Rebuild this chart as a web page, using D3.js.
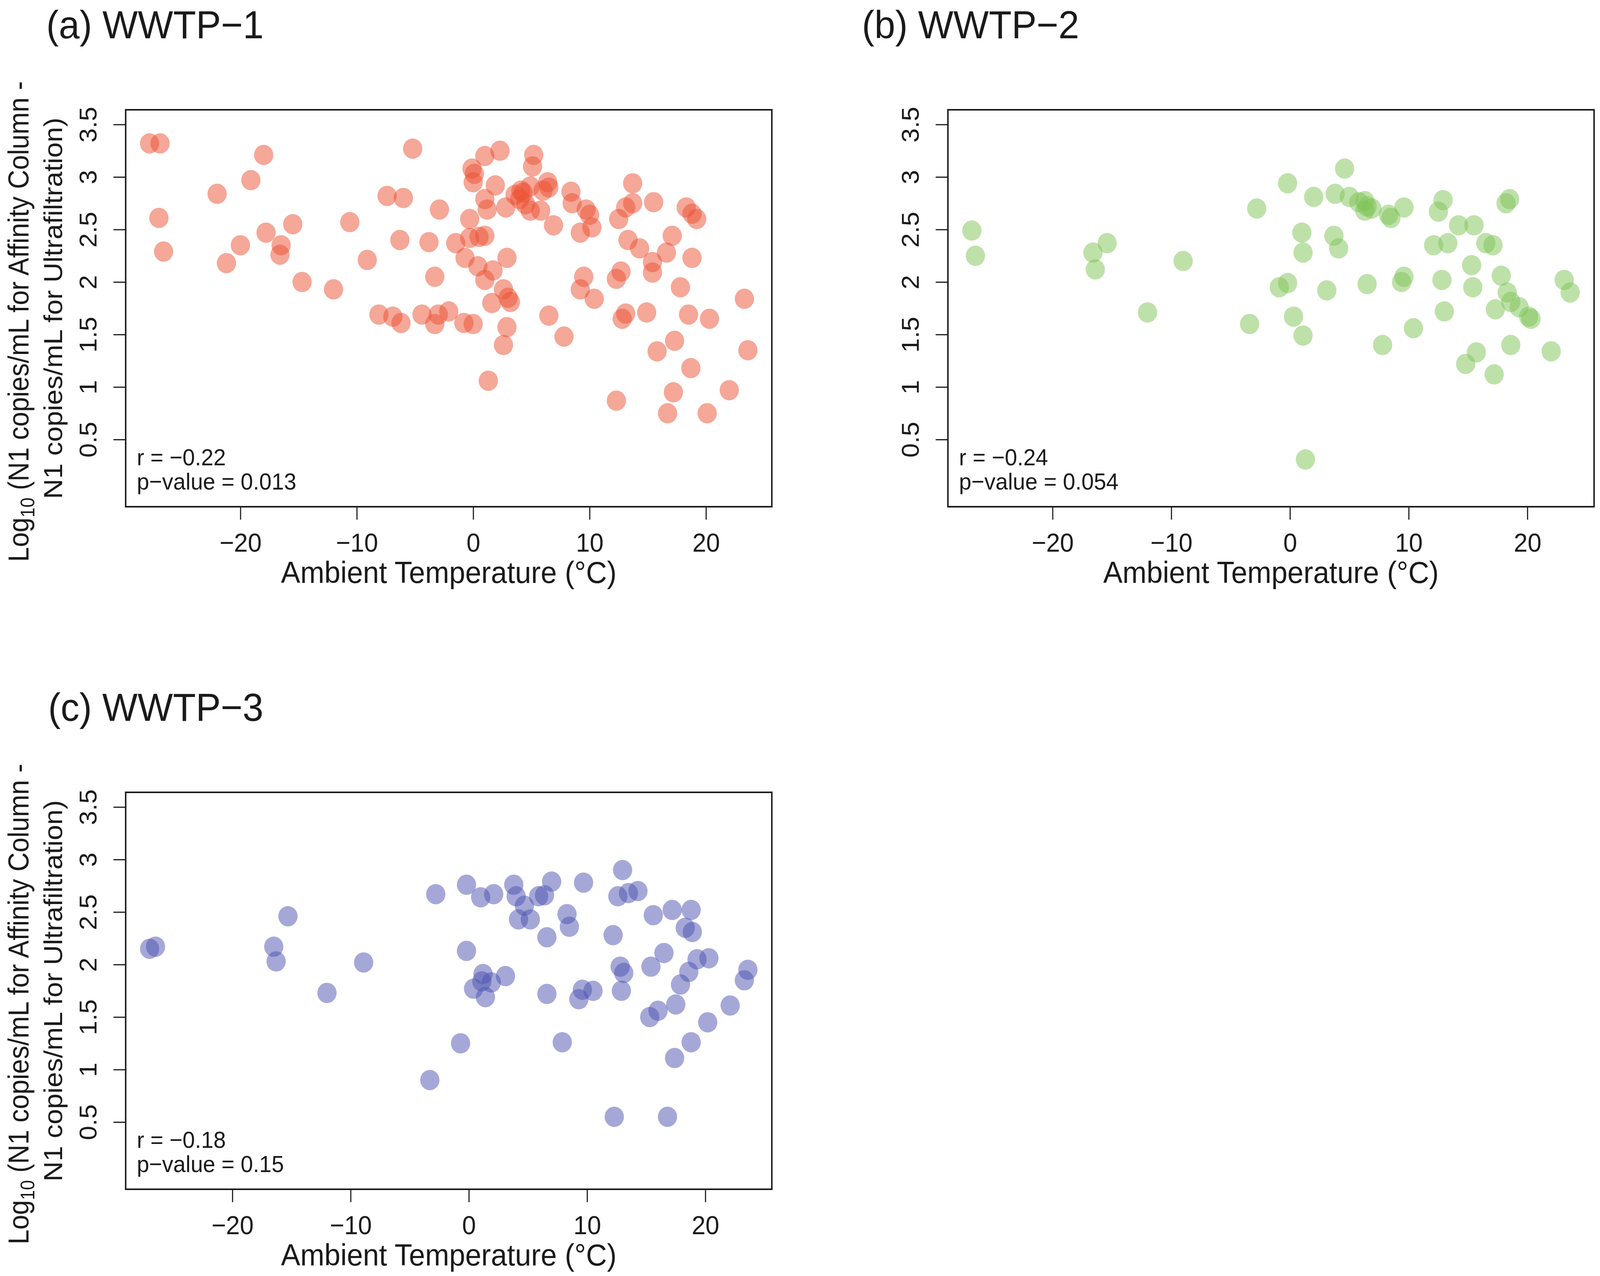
<!DOCTYPE html>
<html>
<head>
<meta charset="utf-8">
<script src="https://cdn.jsdelivr.net/npm/d3@7"></script>
<style>
  html, body { margin: 0; padding: 0; background: #fff; overflow: hidden; }
  svg { display: block; width: 100vw; height: 100vh; }
  text { font-family: "Liberation Sans", Arial, Helvetica, sans-serif; fill: #1a1a1a; }
</style>
</head>
<body>
<div id="chart"></div>
<script>
// ambient temperature (°C) and log10 difference
var temp1 = [-27.8,-26.9,-27.0,-26.6,-22.0,-21.2,-20.0,-19.1,-18.0,-17.8,
  -16.5,-16.6,-15.5,-14.7,-12.0,-10.6,-9.1,-8.1,-7.4,-6.9,
  -6.3,-6.0,-6.2,-5.2,-4.4,-3.8,-3.3,-3.3,-2.9,-3.0,
  -2.1,-1.5,-0.8,0.0,-0.7,-0.3,-0.1,0.1,0.0,-0.3,
  0.4,0.5,1.0,1.0,1.0,1.0,1.2,1.3,1.7,1.9,
  1.6,2.3,2.6,2.8,2.9,2.6,2.9,3.2,3.0,3.6,
  4.1,4.0,4.3,4.5,4.9,5.2,5.1,4.9,5.8,6.0,
  6.4,6.5,6.9,6.5,7.8,8.4,8.5,9.2,9.7,10.0,
  10.2,9.5,9.2,10.4,12.3,12.7,12.5,13.1,13.7,13.7,
  13.3,14.3,13.1,12.8,12.3,14.9,15.5,15.4,15.4,15.8,
  16.6,17.1,17.3,17.2,16.7,17.8,18.3,18.5,18.7,18.8,
  18.8,19.2,20.3,20.1,22.0,23.3,23.6];
var diff1 = [3.32,3.32,2.61,2.29,2.84,2.18,2.35,2.97,3.21,2.47,
  2.35,2.26,2.55,2.00,1.93,2.57,2.21,1.69,2.82,1.67,
  2.40,2.80,1.61,3.27,1.69,2.38,2.05,1.60,2.69,1.69,
  1.72,2.37,1.61,1.60,2.23,2.60,3.08,3.03,2.95,2.42,
  2.15,2.43,2.02,2.44,3.20,2.79,2.69,1.06,2.11,2.92,
  1.80,3.25,1.93,2.71,2.23,1.40,1.57,1.81,1.85,2.83,
  2.87,2.79,2.85,2.74,2.91,3.21,3.10,2.68,2.68,2.87,
  2.95,2.90,2.54,1.68,1.48,2.86,2.75,2.47,2.69,2.64,
  2.52,2.05,1.93,1.84,2.03,2.10,2.60,2.71,2.75,2.94,
  2.40,2.32,1.70,1.65,0.87,1.71,2.76,2.19,2.09,1.34,
  2.28,2.44,1.44,0.95,0.75,1.95,2.71,1.69,1.18,2.23,
  2.65,2.60,1.65,0.75,0.97,1.84,1.35];

var temp2 = [-26.8,-26.5,-16.6,-16.4,-15.4,-12.0,-9.0,-3.4,-2.8,-0.9,
  -0.2,-0.2,0.3,1.0,1.1,1.1,1.3,2.0,3.1,3.7,
  3.8,4.1,4.6,5.0,5.8,6.3,6.5,6.3,6.9,6.5,
  7.8,8.3,8.5,9.6,9.4,9.6,10.4,12.1,12.5,12.9,
  12.8,13.0,13.3,14.2,15.3,15.4,15.5,14.8,15.7,16.5,
  17.1,17.2,17.3,17.8,18.2,18.5,18.3,18.6,18.6,19.3,
  20.1,20.3,22.0,23.1,23.6];
var diff2 = [2.49,2.25,2.28,2.12,2.37,1.71,2.20,1.60,2.70,1.95,
  2.94,1.99,1.67,2.47,2.28,1.49,0.31,2.81,1.92,2.44,
  2.84,2.32,3.08,2.81,2.76,2.77,2.72,2.68,2.70,1.98,
  1.40,2.64,2.61,2.71,2.00,2.05,1.56,2.35,2.67,2.78,
  2.02,1.72,2.37,2.54,2.16,1.95,2.54,1.22,1.33,2.37,
  2.35,1.12,1.74,2.06,2.75,2.79,1.90,1.81,1.40,1.76,
  1.67,1.65,1.34,2.02,1.90];

var temp3 = [-27.0,-26.5,-16.5,-16.3,-15.3,-12.0,-8.9,-3.3,-2.8,-0.7,
  -0.2,-0.2,0.4,1.0,1.2,1.1,1.4,1.9,2.1,3.1,
  3.8,4.0,4.2,4.7,5.2,5.9,6.4,6.6,6.6,7.0,
  7.9,8.3,8.5,9.3,9.6,9.7,10.5,12.2,12.3,12.6,
  12.8,12.9,13.0,13.1,13.5,14.3,15.3,15.4,15.6,16.0,
  16.5,16.8,17.2,17.4,17.5,17.9,18.3,18.6,18.8,18.9,
  18.8,19.3,20.2,20.3,22.1,23.3,23.6];
var diff3 = [2.15,2.17,2.17,2.03,2.46,1.73,2.02,0.90,2.67,1.25,
  2.76,2.13,1.77,2.64,1.91,1.84,1.69,1.83,2.67,1.89,
  2.76,2.65,2.43,2.56,2.43,2.65,2.66,2.26,1.72,2.79,
  1.26,2.48,2.36,1.67,1.76,2.78,1.75,2.28,0.55,2.65,
  1.98,1.75,2.90,1.92,2.68,2.70,1.50,1.98,2.47,1.56,
  2.11,0.55,2.52,1.11,1.62,1.81,2.35,1.93,2.52,2.31,
  1.26,2.05,1.45,2.06,1.61,1.85,1.95];

var xTicks = [-20, -10, 0, 10, 20];
var yTicks = [0.5, 1, 1.5, 2, 2.5, 3, 3.5];
var titles = ["(a) WWTP\u22121", "(b) WWTP\u22122", "(c) WWTP\u22123"];
var rLabels = ["r = \u22120.22", "r = \u22120.24", "r = \u22120.18"];
var pLabels = ["p\u2212value = 0.013", "p\u2212value = 0.054", "p\u2212value = 0.15"];

var W = 4316, H = 3266;
var boxW = 1743, boxH = 1016;

// viewBox so the drawing fills the window whatever its pixel ratio
var svg = d3.select("#chart").append("svg")
    .attr("viewBox", "0 0 " + W + " " + H)
    .attr("preserveAspectRatio", "none");
svg.append("rect").attr("width", W).attr("height", H).attr("fill", "#fff");

// one panel per plant
var panels = [
  { temp: temp1, diff: diff1, left: 339,  top: 281,  color: "rgb(235,80,50)",  titleX: 125,  ylab: true },
  { temp: temp2, diff: diff2, left: 2557, top: 281,  color: "rgb(125,195,85)", titleX: 2325, ylab: false },
  { temp: temp3, diff: diff3, left: 339,  top: 2028, color: "rgb(75,81,175)",  titleX: 130,  ylab: true }
];

panels.forEach((p, i) => {
    var g = svg.append("g")
        .attr("transform", "translate(" + p.left + "," + p.top + ")");

    // R style: data range plus 4% on each side
    var ext = d3.extent(p.temp);
    var pad = (ext[1] - ext[0]) * 0.04;
    var x = d3.scaleLinear()
        .domain([ext[0] - pad, ext[1] + pad])
        .range([0, boxW]);
    var y = d3.scaleLinear()
        .domain([-0.14, 3.64])
        .range([boxH, 0]);

    // points
    g.selectAll("circle")
        .data(p.temp.map((t, k) => ({ t: t, v: p.diff[k] })))
        .enter().append("circle")
        .attr("cx", d => x(d.t))
        .attr("cy", d => y(d.v))
        .attr("r", 26)
        .attr("fill", p.color)
        .attr("fill-opacity", 0.5);

    // box
    g.append("rect")
        .attr("width", boxW)
        .attr("height", boxH)
        .attr("fill", "none")
        .attr("stroke", "#1a1a1a")
        .attr("stroke-width", 4);

    // x axis
    var xAxis = g.append("g")
        .attr("transform", "translate(0," + boxH + ")")
        .call(d3.axisBottom(x).tickValues(xTicks).tickSize(33).tickSizeOuter(0)
            .tickFormat(d => d3.format("d")(d)));
    xAxis.select(".domain").remove();
    xAxis.selectAll("line").attr("stroke", "#1a1a1a").attr("stroke-width", 3);
    xAxis.selectAll("text")
        .attr("y", 115).attr("dy", 0)
        .attr("font-size", 67)
        .attr("font-family", "Liberation Sans, Arial, sans-serif")
        .attr("fill", "#1a1a1a");

    // y axis, labels parallel to the axis
    var yAxis = g.append("g")
        .call(d3.axisLeft(y).tickValues(yTicks).tickSize(33).tickSizeOuter(0)
            .tickFormat(d => String(d)));
    yAxis.select(".domain").remove();
    yAxis.selectAll("line").attr("stroke", "#1a1a1a").attr("stroke-width", 3);
    yAxis.selectAll("text")
        .attr("x", 0).attr("y", 0).attr("dy", 0)
        .attr("transform", "translate(-79,0) rotate(-90)")
        .attr("text-anchor", "middle")
        .attr("font-size", 66)
        .attr("font-family", "Liberation Sans, Arial, sans-serif")
        .attr("fill", "#1a1a1a");

    // x title
    g.append("text")
        .attr("x", boxW / 2)
        .attr("y", boxH + 195)
        .attr("text-anchor", "middle")
        .attr("font-size", 78)
        .text("Ambient Temperature (\u00B0C)");

    // panel title
    svg.append("text")
        .attr("x", p.titleX)
        .attr("y", p.top - 183)
        .attr("font-size", 101)
        .text(titles[i]);

    // correlation note
    g.append("text")
        .attr("x", 30)
        .attr("y", boxH - 106)
        .attr("font-size", 60)
        .text(rLabels[i]);
    g.append("text")
        .attr("x", 30)
        .attr("y", boxH - 44)
        .attr("font-size", 60)
        .text(pLabels[i]);

    // y title, two lines
    if (p.ylab) {
        var l1 = g.append("text")
            .attr("transform", "translate(-262," + (boxH / 2 + 34) + ") rotate(-90) scale(1,1.15)")
            .attr("text-anchor", "middle")
            .attr("font-size", 68);
        l1.append("tspan").text("Log");
        l1.append("tspan").attr("font-size", 46).attr("dy", 14).text("10");
        l1.append("tspan").attr("dy", -14).text(" (N1 copies/mL for Affinity Column -");

        g.append("text")
            .attr("transform", "translate(-171," + (boxH / 2) + ") rotate(-90)")
            .attr("text-anchor", "middle")
            .attr("font-size", 71)
            .text("N1 copies/mL for Ultrafiltration)");
    }
});
</script>
</body>
</html>
